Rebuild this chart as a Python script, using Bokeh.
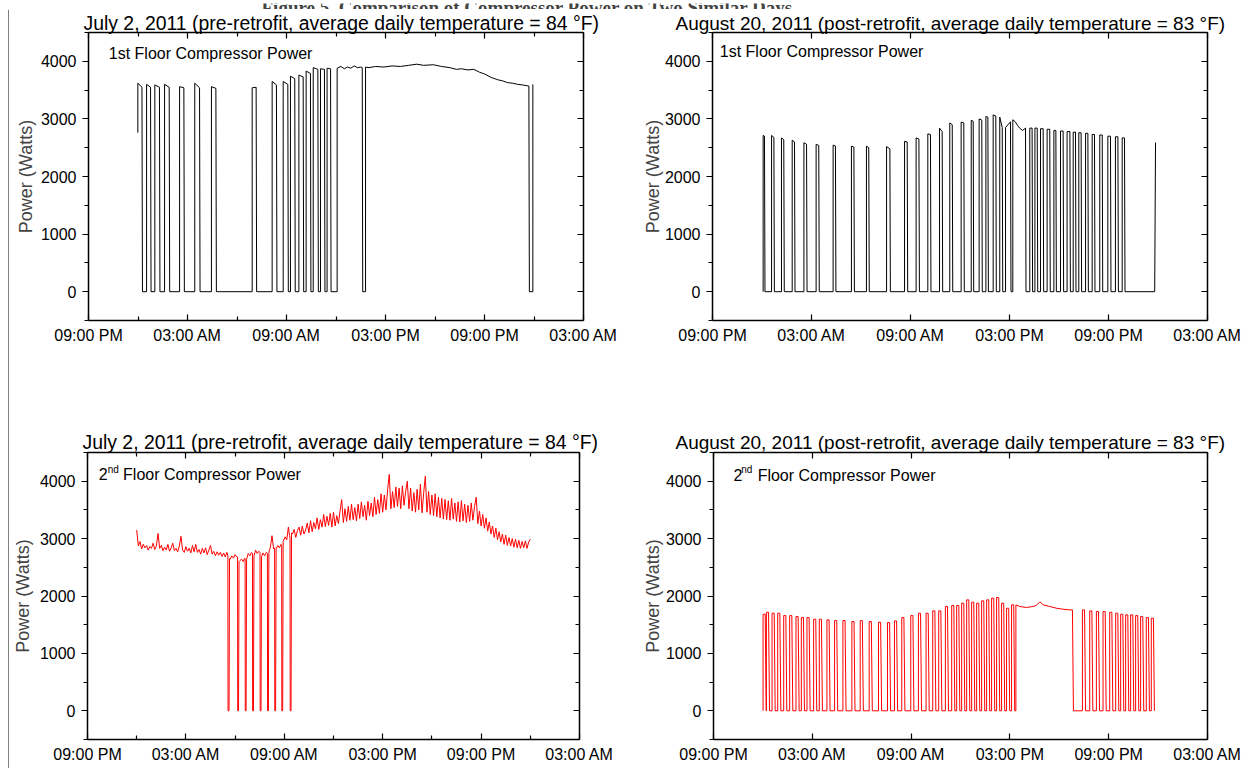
from bokeh.plotting import figure
from bokeh.models import Range1d, LinearAxis, FixedTicker, Label, Title
from bokeh.layouts import row, column
from bokeh.embed import file_html
from bokeh.resources import INLINE

FONT = "Liberation Sans"

# ---------------- axis data ----------------
tick_hours = [0, 6, 12, 18, 24, 30]          # hours after 9 PM of previous day
tick_labels = ["09:00 PM", "03:00 AM", "09:00 AM", "03:00 PM", "09:00 PM", "03:00 AM"]
minor_hours = [3, 9, 15, 21, 27]
power_ticks = [0, 1000, 2000, 3000, 4000]
power_minor = [-500, 500, 1500, 2500, 3500, 4500]

title_pre = "July 2, 2011 (pre-retrofit, average daily temperature = 84 \u00b0F)"
title_post = "August 20, 2011 (post-retrofit, average daily temperature = 83 \u00b0F)"
banner_text = "Figure 5. Comparison of Compressor Power on Two Similar Days"

# ---------------- 1st floor, July 2 (black) ----------------
tl_start_w = 2760
tl_on = [2.99, 3.52, 4.02, 4.61, 5.52, 6.44, 7.45, 9.92, 11.13, 11.80, 12.24, 12.75, 13.19, 13.62, 14.06, 14.46]
tl_off = [3.24, 3.76, 4.30, 4.89, 5.78, 6.73, 7.72, 10.16, 11.39, 12.08, 12.50, 13.01, 13.45, 13.90, 14.30, 14.67]
tl_top_a = [3620, 3600, 3590, 3600, 3560, 3620, 3560, 3540, 3650, 3650, 3740, 3760, 3830, 3890, 3870, 3880]
tl_top_b = [3550, 3550, 3550, 3550, 3540, 3540, 3530, 3550, 3590, 3600, 3700, 3730, 3790, 3860, 3860, 3870]
tl_run1_h = [15.07, 15.3, 15.5, 15.7, 15.9, 16.1, 16.3, 16.5, 16.59]
tl_run1_w = [3880, 3910, 3870, 3900, 3880, 3920, 3890, 3900, 3890]
tl_run2_h = [16.79, 17.0, 17.4, 17.9, 18.4, 18.9, 19.4, 19.9, 20.3, 20.9, 21.4, 21.9, 22.3, 22.6,
             23.0, 23.35, 23.7, 24.0, 24.4, 24.8, 25.1, 25.4, 25.7, 26.0, 26.3, 26.69]
tl_run2_w = [3900, 3890, 3910, 3900, 3920, 3910, 3930, 3950, 3930, 3940, 3910, 3890, 3860, 3870,
             3850, 3860, 3810, 3780, 3720, 3680, 3660, 3630, 3620, 3600, 3590, 3570]
tl_end_h = 26.93
tl_end_w = 3600

# ---------------- 1st floor, August 20 (black) ----------------
tr_on = [3.07, 3.58, 4.18, 4.83, 5.54, 6.28, 7.31, 8.42, 9.33, 10.55, 11.64, 12.34, 13.05, 13.76,
         14.38, 15.07, 15.68, 16.16, 16.57, 17.01, 17.41, 17.76]
tr_off = [3.15, 3.72, 4.32, 4.97, 5.70, 6.44, 7.45, 8.57, 9.47, 10.75, 11.80, 12.51, 13.21, 13.92,
          14.53, 15.23, 15.80, 16.32, 16.69, 17.17, 17.56, 18.06]
tr_top_a = [2713, 2713, 2670, 2630, 2585, 2557, 2545, 2527, 2527, 2520, 2610, 2670, 2740, 2840,
            2930, 2945, 2975, 3000, 3043, 3070, 3030, 2850]
tr_top_b = [2700, 2680, 2640, 2600, 2560, 2540, 2530, 2510, 2500, 2480, 2600, 2650, 2730, 2780,
            2900, 2930, 2960, 2980, 3030, 3050, 2850, 2950]
tr_run_h = [18.20, 18.35, 18.5, 18.65, 18.8, 18.97]
tr_run_w = [2985, 2950, 2880, 2830, 2800, 2840]
tr_on2 = [19.23, 19.54, 19.88, 20.28, 20.69, 21.09, 21.49, 21.86, 22.20, 22.61, 23.01, 23.47, 23.96, 24.42, 24.83]
tr_off2 = [19.37, 19.68, 20.04, 20.44, 20.81, 21.25, 21.66, 22.00, 22.34, 22.75, 23.15, 23.62, 24.12, 24.57, 24.97]
tr_top2 = [2840, 2840, 2830, 2820, 2800, 2790, 2780, 2770, 2760, 2750, 2730, 2720, 2700, 2690, 2670]
tr_end_h = [26.80, 26.85]
tr_end_w = [0, 2590]

# ---------------- 2nd floor, July 2 (red) ----------------
bl_h = [3.0, 3.1, 3.2, 3.3, 3.4, 3.5, 3.6, 3.7, 3.8, 3.9, 4.0, 4.1, 4.2, 4.3, 4.4, 4.5, 4.6, 4.7, 4.8, 4.9,
        5.0, 5.1, 5.2, 5.3, 5.4, 5.5, 5.6, 5.7, 5.8, 5.9, 6.0, 6.1, 6.2, 6.3, 6.4, 6.5, 6.6, 6.7, 6.8, 6.9,
        7.0, 7.1, 7.2, 7.3, 7.4, 7.5, 7.6, 7.7, 7.8, 7.9, 8.0, 8.1, 8.2, 8.3, 8.4, 8.5,
        8.56, 8.57, 8.63, 8.66, 8.7, 8.8, 8.9, 9.0, 9.1,
        9.15, 9.16, 9.21, 9.24, 9.3, 9.4, 9.5, 9.58,
        9.61, 9.62, 9.67, 9.70, 9.8, 9.9, 10.0,
        10.06, 10.07, 10.12, 10.15, 10.25, 10.35, 10.45,
        10.52, 10.53, 10.58, 10.61, 10.7, 10.8, 10.9,
        10.97, 10.98, 11.03, 11.06, 11.15, 11.25, 11.35,
        11.41, 11.42, 11.47, 11.50, 11.6, 11.7, 11.8,
        11.84, 11.85, 11.90, 11.93, 12.05, 12.15, 12.25, 12.32,
        12.35, 12.36, 12.41, 12.44,
        12.5, 12.6, 12.7, 12.8, 12.9, 13.0, 13.1, 13.2, 13.3, 13.4, 13.5, 13.6, 13.7, 13.8, 13.9,
        14.0, 14.1, 14.2, 14.3, 14.4, 14.5, 14.6, 14.7, 14.8, 14.9, 15.0, 15.1, 15.2, 15.3, 15.4,
        15.5, 15.6, 15.7, 15.8, 15.9, 16.0, 16.1, 16.2, 16.3, 16.4, 16.5, 16.6, 16.7, 16.8, 16.9,
        17.0, 17.1, 17.2, 17.3, 17.4, 17.5, 17.6, 17.7, 17.8, 17.9, 18.0, 18.1, 18.2, 18.3, 18.4,
        18.5, 18.6, 18.7, 18.8, 18.9, 19.0, 19.1, 19.2, 19.3, 19.4, 19.5, 19.6, 19.7, 19.8, 19.9,
        20.0, 20.1, 20.2, 20.3, 20.4, 20.5, 20.6, 20.7, 20.8, 20.9, 21.0, 21.1, 21.2, 21.3, 21.4,
        21.5, 21.6, 21.7, 21.8, 21.9, 22.0, 22.1, 22.2, 22.3, 22.4, 22.5, 22.6, 22.7, 22.8, 22.9,
        23.0, 23.1, 23.2, 23.3, 23.4, 23.5, 23.6, 23.7, 23.8, 23.9, 24.0, 24.1, 24.2, 24.3, 24.4,
        24.5, 24.6, 24.7, 24.8, 24.9, 25.0, 25.1, 25.2, 25.3, 25.4, 25.5, 25.6, 25.7, 25.8, 25.9,
        26.0, 26.1, 26.2, 26.3, 26.4, 26.5, 26.6, 26.7, 26.8, 26.9, 27.0]
bl_w = [3150, 2870, 2950, 2820, 2900, 2840, 2880, 2800, 2860, 2830, 2920, 2810, 2870, 3090, 2830, 2880, 2790, 2850, 2800, 2900,
        2780, 2840, 2920, 2790, 2830, 2770, 2870, 3040, 2800, 2760, 2860, 2780, 2830, 2750, 2880, 2770, 2900, 2760, 2810, 2730,
        2830, 2750, 2840, 2720, 2800, 2880, 2730, 2780, 2700, 2770, 2710, 2760, 2690, 2750, 2680, 2760,
        2700, 0, 0, 2650, 2640, 2700, 2660, 2720, 2680,
        2680, 0, 0, 2600, 2620, 2640, 2600, 2660,
        2650, 0, 0, 2640, 2740, 2700, 2760,
        2740, 0, 0, 2700, 2800, 2740, 2780,
        2760, 0, 0, 2680, 2750, 2700, 2760,
        2740, 0, 0, 2760, 2850, 3050, 2820,
        2840, 0, 0, 2820, 2880, 2840, 2900,
        2880, 0, 0, 2950, 3030, 2980, 3200, 3050,
        3000, 0, 0, 3100,
        3080, 3160, 3020, 3140, 3200, 3060, 3220, 3080, 3150, 3270, 3100, 3310, 3120, 3280, 3170,
        3360, 3160, 3330, 3200, 3420, 3210, 3390, 3230, 3440, 3200, 3460, 3220, 3400, 3260, 3480,
        3680, 3280, 3520, 3300, 3560, 3320, 3600, 3330, 3540, 3310, 3600, 3350, 3640, 3380, 3580,
        3320, 3650, 3400, 3620, 3380, 3720, 3420, 3680, 3440, 3780, 3460, 3760, 3500, 3850, 4120,
        3520, 3820, 3540, 3900, 3560, 3880, 3520, 3920, 3580, 3820, 4000, 3520, 3880, 3480, 3800,
        3460, 3860, 3500, 3950, 3450, 3800, 4090, 3460, 3820, 3420, 3760, 3400, 3780, 3380, 3720,
        3360, 3700, 3340, 3680, 3330, 3660, 3320, 3700, 3340, 3620, 3300, 3640, 3290, 3660, 3310,
        3600, 3280, 3580, 3300, 3620, 3320, 3560, 3720, 3260, 3480, 3220, 3420, 3180, 3360, 3130,
        3290, 3080, 3220, 3020, 3180, 2980, 3120, 2940, 3080, 2900, 3060, 2880, 3020, 2870, 3000,
        2850, 2990, 2840, 2970, 2830, 2950, 2840, 2960, 2830, 2940, 2990]

# ---------------- 2nd floor, August 20 (red) ----------------
br_on = [3.010, 3.212, 3.556, 3.899, 4.263, 4.626, 5.010, 5.333, 5.677, 6.081, 6.424, 6.889, 7.353, 7.859,
         8.404, 8.909, 9.454, 10.020, 10.565, 10.990, 11.434, 11.980, 12.444, 12.909, 13.313, 13.677,
         14.081, 14.465, 14.768, 15.071, 15.374, 15.677, 15.980, 16.283, 16.586, 16.889, 17.192, 17.495,
         17.798, 18.101]
br_top = [1682, 1717, 1700, 1700, 1659, 1659, 1642, 1624, 1624, 1595, 1595, 1584, 1572, 1572,
          1555, 1572, 1555, 1543, 1537, 1566, 1624, 1659, 1700, 1700, 1741, 1741,
          1817, 1834, 1834, 1875, 1933, 1892, 1875, 1916, 1933, 1962, 1974, 1875,
          1787, 1846]
br_run_h = [18.364, 18.6, 19.0, 19.4, 19.6, 19.82, 20.02, 20.42, 20.83, 21.23, 21.64, 21.798]
br_run_w = [1846, 1817, 1800, 1817, 1834, 1900, 1846, 1817, 1787, 1770, 1758, 1758]
br_on2 = [22.404, 22.848, 23.252, 23.656, 24.061, 24.424, 24.727, 25.030, 25.333, 25.636, 25.939, 26.283, 26.586]
br_top2 = [1758, 1741, 1729, 1729, 1717, 1700, 1682, 1671, 1671, 1659, 1642, 1624, 1613]
br_width_h = 0.13


def pulses(on, off, top_a, top_b, fall=0.03):
    xs, ys = [], []
    for a, b, ua, ub in zip(on, off, top_a, top_b):
        xs += [a, a, b, b + fall]
        ys += [0, ua, ub, 0]
    return xs, ys


def run(hs, ws, fall=0.03):
    return [hs[0]] + list(hs) + [hs[-1] + fall], [0] + list(ws) + [0]


# assemble paths
x1, y1 = pulses(tl_on, tl_off, tl_top_a, tl_top_b)
x1[0], y1[0] = tl_on[0], tl_start_w
rx, ry = run(tl_run1_h, tl_run1_w)
x1 += rx; y1 += ry
rx, ry = run(tl_run2_h, tl_run2_w)
x1 += rx; y1 += ry
x1 += [tl_end_h, tl_end_h]; y1 += [0, tl_end_w]

x2, y2 = pulses(tr_on, tr_off, tr_top_a, tr_top_b)
rx, ry = run(tr_run_h, tr_run_w)
x2 += rx; y2 += ry
px, py = pulses(tr_on2, tr_off2, tr_top2, tr_top2)
x2 += px; y2 += py
x2 += tr_end_h; y2 += tr_end_w

x4, y4 = pulses(br_on, [v + br_width_h for v in br_on], br_top, br_top, fall=0.06)
rx, ry = run(br_run_h, br_run_w, fall=0.06)
x4 += rx; y4 += ry
px, py = pulses(br_on2, [v + br_width_h for v in br_on2], br_top2, br_top2, fall=0.06)
x4 += px; y4 += py


def panel(width, height, ml, mr, mt, mb, x_minor, title, title_size, title_offset, title_standoff, ylab_standoff):
    p = figure(width=width, height=height, x_range=Range1d(0, 30), y_range=Range1d(-500, 4500),
               output_backend="svg", toolbar_location=None,
               x_axis_location=None, y_axis_location=None,
               min_border_left=ml, min_border_right=mr, min_border_top=mt, min_border_bottom=mb)
    p.xgrid.visible = False
    p.ygrid.visible = False
    p.outline_line_color = None
    p.background_fill_color = "white"
    p.border_fill_color = "white"
    minors = minor_hours if x_minor else []
    overrides = {t: l for t, l in zip(tick_hours, tick_labels)}
    blank_x = {t: "" for t in tick_hours}
    blank_y = {t: "" for t in power_ticks}

    def style(ax, tin, labels=True):
        ax.axis_line_width = 1.5
        ax.axis_line_color = "black"
        ax.major_tick_line_color = "black"
        ax.minor_tick_line_color = "black"
        ax.major_tick_line_width = 1.2
        ax.minor_tick_line_width = 1.2
        ax.major_tick_in, ax.major_tick_out = (6, 0) if tin else (0, 6)
        ax.minor_tick_in, ax.minor_tick_out = (4, 0) if tin else (0, 4)
        ax.major_label_text_font = FONT
        ax.major_label_text_color = "black"
        if labels:
            ax.major_label_text_font_size = "16px"
            ax.major_label_standoff = 6
        else:
            ax.major_label_text_font_size = "1px"
            ax.major_label_standoff = 0

    xb = LinearAxis(ticker=FixedTicker(ticks=tick_hours, minor_ticks=minors),
                    major_label_overrides=overrides)
    style(xb, True)
    p.add_layout(xb, "below")
    xt = LinearAxis(ticker=FixedTicker(ticks=tick_hours, minor_ticks=minors),
                    major_label_overrides=blank_x)
    style(xt, True, labels=False)
    p.add_layout(xt, "above")
    yl = LinearAxis(ticker=FixedTicker(ticks=power_ticks, minor_ticks=power_minor),
                    axis_label="Power (Watts)")
    style(yl, False)
    yl.axis_label_text_font = FONT
    yl.axis_label_text_font_size = "18px"
    yl.axis_label_text_font_style = "normal"
    yl.axis_label_standoff = ylab_standoff
    p.add_layout(yl, "left")
    yr = LinearAxis(ticker=FixedTicker(ticks=power_ticks, minor_ticks=power_minor),
                    major_label_overrides=blank_y)
    style(yr, True, labels=False)
    p.add_layout(yr, "right")
    p.add_layout(Title(text=title, align="left", offset=title_offset, standoff=title_standoff,
                       text_font=FONT, text_font_size=title_size, text_font_style="normal",
                       text_color="black", vertical_align="bottom"), "above")
    return p


def text(p, x, y, s, size="16px"):
    p.add_layout(Label(x=x, y=y, text=s, text_font=FONT, text_font_size=size, text_font_style="normal",
                       text_color="black", text_align="left", text_baseline="middle"))


# top-left
tl = panel(612, 375, 79, 38, 23, 64, True, title_pre, "19.4px", -5, -2, 2)
tl.line(x1, y1, line_color="black", line_width=1)
text(tl, 1.23, 4144, "1st Floor Compressor Power")

# top-right
tr = panel(622, 375, 91, 36, 23, 64, False, title_post, "19px", -37, -2, -1)
tr.line(x2, y2, line_color="black", line_width=1)
text(tr, 0.44, 4167, "1st Floor Compressor Power")

# bottom-left
bl = panel(612, 384, 76, 42, 68, 29, True, title_pre, "19.4px", -5, -1, 4)
bl.line(bl_h, bl_w, line_color="#ff0000", line_width=1)
text(bl, 0.69, 4124, "2")
text(bl, 1.23, 4207, "nd", size="10px")
text(bl, 2.17, 4124, "Floor Compressor Power")

# bottom-right
br = panel(622, 384, 92, 36, 68, 29, False, title_post, "19px", -38, -1, 0)
br.line(x4, y4, line_color="#ff0000", line_width=1)
text(br, 1.21, 4108, "2")
text(br, 1.68, 4207, "nd", size="10px")
text(br, 2.68, 4108, "Floor Compressor Power")

# banner (cut-off page heading and page border)
banner = figure(width=1243, height=9, x_range=Range1d(0, 1243), y_range=Range1d(0, 9),
                output_backend="svg", toolbar_location=None, x_axis_location=None, y_axis_location=None,
                min_border=0, min_border_left=0, min_border_right=0, min_border_top=0, min_border_bottom=0)
banner.xgrid.visible = False
banner.ygrid.visible = False
banner.outline_line_color = None
banner.line([8.5, 1243], [0.5, 0.5], line_color="black", line_width=1)
banner.line([8.5, 8.5], [0, 0.5], line_color="black", line_width=1)
banner.add_layout(Label(x=527, y=5, text=banner_text, text_font="Liberation Serif", text_font_size="19px",
                        text_font_style="bold", text_align="center", text_baseline="alphabetic"))

strip = figure(width=9, height=759, x_range=Range1d(0, 9), y_range=Range1d(0, 759),
               output_backend="svg", toolbar_location=None, x_axis_location=None, y_axis_location=None,
               min_border=0, min_border_left=0, min_border_right=0, min_border_top=0, min_border_bottom=0)
strip.xgrid.visible = False
strip.ygrid.visible = False
strip.outline_line_color = None
strip.line([8.5, 8.5], [0, 759], line_color="black", line_width=1)

layout = column(banner, row(strip, column(row(tl, tr), row(bl, br))))
open("out.html", "w").write(file_html(layout, INLINE))
